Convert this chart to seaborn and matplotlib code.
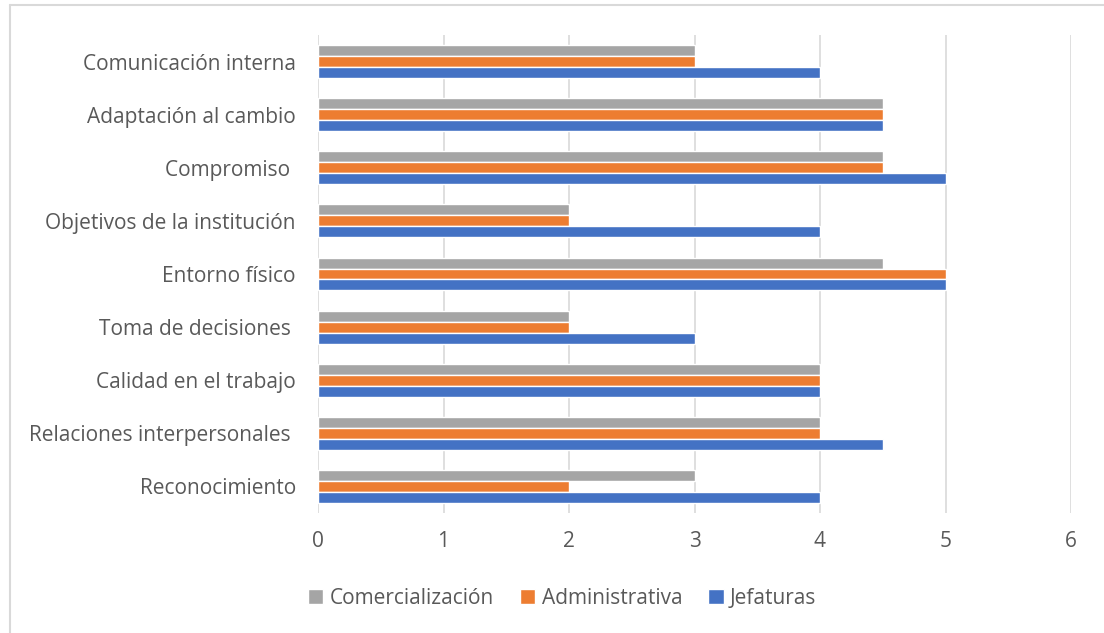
import matplotlib
matplotlib.use("Agg")
import matplotlib.pyplot as plt
import seaborn as sns
import pandas as pd
from matplotlib.lines import Line2D

categories = [
    "Comunicación interna",
    "Adaptación al cambio",
    "Compromiso ",
    "Objetivos de la institución",
    "Entorno físico",
    "Toma de decisiones ",
    "Calidad en el trabajo",
    "Relaciones interpersonales ",
    "Reconocimiento",
]
series_names = ["Comercialización", "Administrativa", "Jefaturas"]
comercializacion = [3, 4.5, 4.5, 2, 4.5, 2, 4, 4, 3]
administrativa = [3, 4.5, 4.5, 2, 5, 2, 4, 4, 2]
jefaturas = [4, 4.5, 5, 4, 5, 3, 4, 4.5, 4]
x_ticks = [0, 1, 2, 3, 4, 5, 6]

colors = ["#A5A5A5", "#ED7D31", "#4472C4"]

rows = []
for name, vals in zip(series_names, [comercializacion, administrativa, jefaturas]):
    for c, v in zip(categories, vals):
        rows.append({"cat": c, "serie": name, "val": v})
df = pd.DataFrame(rows)

sns.set_theme(style="white")
plt.rcParams["font.family"] = ["Open Sans", "DejaVu Sans"]

fig = plt.figure(figsize=(11.04, 6.33), dpi=100)
ax = fig.add_axes([318 / 1104, 1 - 513 / 633, (1071 - 318) / 1104, (513 - 35) / 633])

sns.barplot(data=df, y="cat", x="val", hue="serie", order=categories,
            hue_order=series_names, palette=colors, width=0.62,
            orient="h", ax=ax, legend=True, saturation=1, zorder=3)

ax.set_xlim(0, 6)
ax.set_xticks(x_ticks)
ax.set_xticklabels([str(t) for t in x_ticks])
ax.set_xlabel("")
ax.set_ylabel("")
for s in ax.spines.values():
    s.set_visible(False)
ax.grid(axis="x", color="#D9D9D9", linewidth=1.2, zorder=0)
ax.grid(axis="y", visible=False)
ax.tick_params(axis="both", length=0, colors="#595959", labelsize=15)
ax.tick_params(axis="x", pad=13)
ax.tick_params(axis="y", pad=16)
for lbl in ax.get_xticklabels() + ax.get_yticklabels():
    lbl.set_color("#595959")

handles, labels = ax.get_legend_handles_labels()
ax.legend_.remove()
leg = fig.legend(handles, labels, loc="center", bbox_to_anchor=(562 / 1104, 1 - 598 / 633),
                 ncol=3, frameon=False, fontsize=15, handlelength=0.75, handleheight=0.75,
                 handletextpad=0.3, columnspacing=1.25)
for t in leg.get_texts():
    t.set_color("#595959")

# outer chart frame (left and top edges visible)
fig.add_artist(Line2D([10 / 1104, 10 / 1104], [0, 1 - 5 / 633], transform=fig.transFigure,
                      color="#D9D9D9", linewidth=1.5))
fig.add_artist(Line2D([10 / 1104, 1], [1 - 5 / 633, 1 - 5 / 633], transform=fig.transFigure,
                      color="#D9D9D9", linewidth=1.5))

fig.savefig("out.png", dpi=100)
